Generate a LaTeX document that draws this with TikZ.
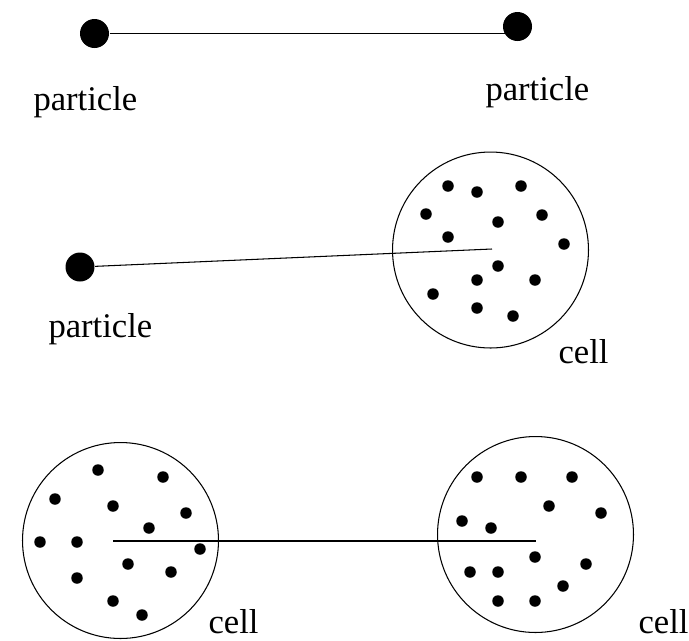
\documentclass[tikz,border=0pt]{standalone}
\usepackage{fontspec}
\setmainfont{Liberation Serif}
\usepackage{tikz}
\usetikzlibrary{positioning,calc}

\begin{document}
\begin{tikzpicture}[x=0.02cm,y=-0.02cm,line width=0.6pt,
  pdot/.style={circle,fill=black,inner sep=0pt,minimum size=0.58cm},
  sdot/.style={circle,fill=black,inner sep=0pt,minimum size=0.23cm},
  cellring/.style={circle,draw,inner sep=0pt,minimum size=3.92cm},
  lbl/.style={anchor=base west,inner sep=0pt,font=\fontsize{19.7}{24}\selectfont}]
\useasboundingbox (0,0) rectangle (689,640);
% two particles
\node[pdot] (p1) at (94.5,33.5) {};
\node[pdot] (p2) at (517.5,26.5) {};
\node[lbl] (t1) at (33,110) {particle};
\node[lbl] (t2) at (485,100) {particle};
\draw (p1) -- (p1 -| p2);
% particle and cell
\node[pdot] (p3) at (80,267) {};
\node[lbl] (t3) at (48,337) {particle};
\node[cellring] (cellA) at (490.5,250) {};
\coordinate (cellAin) at (492,249);
\node[lbl] (t4) at (558,363) {cell};
\node[sdot] (a1) at (448,186) {};
\node[sdot] (a2) at (477,192) {};
\node[sdot] (a3) at (521,186) {};
\node[sdot] (a4) at (426,214) {};
\node[sdot] (a5) at (498,222) {};
\node[sdot] (a6) at (542,215) {};
\node[sdot] (a7) at (448,237) {};
\node[sdot] (a8) at (564,244) {};
\node[sdot] (a9) at (498,266) {};
\node[sdot] (a10) at (477,280) {};
\node[sdot] (a11) at (535,280) {};
\node[sdot] (a12) at (433,294) {};
\node[sdot] (a13) at (477,308) {};
\node[sdot] (a14) at (513,316) {};
\draw (p3) -- (cellAin);
% two cells
\node[cellring] (cellB) at (120.5,540.5) {};
\coordinate (cellBin) at (113,541);
\node[lbl] (t5) at (208,633) {cell};
\node[sdot] (b1) at (98,470) {};
\node[sdot] (b2) at (163,477) {};
\node[sdot] (b3) at (55,499) {};
\node[sdot] (b4) at (113,506) {};
\node[sdot] (b5) at (186,513) {};
\node[sdot] (b6) at (149,528) {};
\node[sdot] (b7) at (40,542) {};
\node[sdot] (b8) at (77,542) {};
\node[sdot] (b9) at (200,549) {};
\node[sdot] (b10) at (128,564) {};
\node[sdot] (b11) at (171,572) {};
\node[sdot] (b12) at (77,578) {};
\node[sdot] (b13) at (113,601) {};
\node[sdot] (b14) at (142,615) {};
\node[cellring] (cellC) at (535.5,534.5) {};
\coordinate (cellCin) at (536,541);
\node[lbl] (t6) at (638,633) {cell};
\node[sdot] (c1) at (477,477) {};
\node[sdot] (c2) at (521,477) {};
\node[sdot] (c3) at (572,477) {};
\node[sdot] (c4) at (549,506) {};
\node[sdot] (c5) at (601,513) {};
\node[sdot] (c6) at (462,521) {};
\node[sdot] (c7) at (491,528) {};
\node[sdot] (c8) at (535,557) {};
\node[sdot] (c9) at (586,564) {};
\node[sdot] (c10) at (470,572) {};
\node[sdot] (c11) at (498,572) {};
\node[sdot] (c12) at (563,586) {};
\node[sdot] (c13) at (498,601) {};
\node[sdot] (c14) at (535,601) {};
\draw (cellBin) -- (cellCin);
\end{tikzpicture}
\end{document}
